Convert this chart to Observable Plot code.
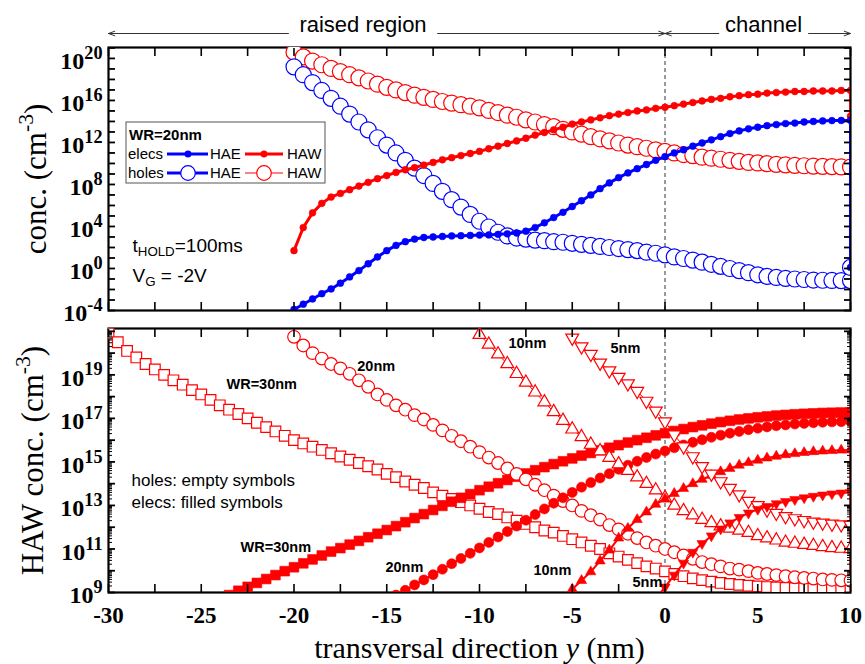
<!DOCTYPE html>
<html>
<head>
<meta charset="utf-8">
<script src="https://cdn.jsdelivr.net/npm/d3@7"></script>
<script src="https://cdn.jsdelivr.net/npm/@observablehq/plot@0.6"></script>
<style>
  html, body { margin: 0; padding: 0; background: #fff; }
  #chart { width: 865px; height: 664px; overflow: hidden; }
  #chart svg { display: block; }
</style>
</head>
<body>
<div id="chart"></div>
<script>
// ---------------- DATA: log10 of concentration (cm^-3), one value every 0.5 nm ----------------
const STEP = 0.5;

// Top panel (WR = 20 nm), transversal position from -20 nm to 10 nm
const topStart = -20;
const elecsHAE = [-3.9,-3.4,-2.9,-2.4,-1.95,-1.4,-0.8,-0.2,0.45,1.1,1.7,2.2,2.55,2.8,2.95,3.0,3.05,3.1,3.12,3.15,3.18,3.2,3.25,3.3,3.38,3.55,3.9,4.35,4.85,5.35,5.9,6.45,7.0,7.6,8.15,8.65,9.1,9.5,9.9,10.3,10.65,11.0,11.3,11.65,11.95,12.25,12.55,12.85,13.1,13.3,13.45,13.6,13.7,13.8,13.85,13.95,14.0,14.05,14.08,14.1,14.1];
const elecsHAW = [1.7,3.9,5.3,6.2,6.8,7.15,7.5,7.85,8.2,8.55,8.85,9.15,9.4,9.6,9.85,10.1,10.35,10.55,10.75,10.95,11.15,11.4,11.65,11.9,12.15,12.4,12.7,12.95,13.2,13.45,13.75,13.95,14.15,14.35,14.55,14.7,14.85,15.0,15.1,15.25,15.35,15.5,15.65,15.8,15.95,16.1,16.2,16.35,16.45,16.55,16.6,16.7,16.75,16.8,16.85,16.85,16.9,16.9,16.9,16.95,16.95];
const holesHAE = [19.2,18.45,17.7,16.95,16.2,15.45,14.7,13.95,13.2,12.45,11.75,11.0,10.3,9.55,8.85,8.1,7.35,6.55,5.85,5.15,4.5,3.95,3.45,3.1,2.9,2.8,2.7,2.65,2.55,2.5,2.4,2.3,2.2,2.1,2.0,1.9,1.8,1.7,1.55,1.45,1.3,1.1,0.95,0.8,0.6,0.4,0.2,0.0,-0.2,-0.4,-0.6,-0.75,-0.85,-0.95,-1.0,-1.05,-1.1,-1.12,-1.14,-1.15,-1.15];
const holesHAW = [20.6,20.15,19.75,19.4,19.05,18.75,18.45,18.15,17.85,17.55,17.25,17.0,16.75,16.5,16.3,16.1,15.9,15.75,15.6,15.45,15.3,15.05,14.85,14.6,14.4,14.15,13.95,13.7,13.5,13.25,13.0,12.8,12.55,12.35,12.15,11.95,11.75,11.6,11.45,11.3,11.15,11.0,10.85,10.75,10.6,10.5,10.4,10.3,10.2,10.1,10.05,9.98,9.92,9.87,9.82,9.78,9.75,9.72,9.7,9.68,9.66];
// boundary values at y = 10 nm (curves drop along the right edge)
const wallElecsHAE = 0.1, wallElecsHAW = 14.5, wallHolesHAE = 0.1;

// Bottom panel (HAW) for WR = 30, 20, 10, 5 nm
const holesWR30 = [20.9,20.5,20.1,19.8,19.5,19.25,19.0,18.75,18.55,18.3,18.1,17.85,17.6,17.4,17.2,17.0,16.8,16.6,16.4,16.2,16.0,15.85,15.7,15.55,15.4,15.25,15.1,14.95,14.8,14.65,14.45,14.3,14.1,13.95,13.8,13.6,13.45,13.3,13.15,13.0,12.85,12.7,12.6,12.45,12.3,12.15,12.0,11.85,11.75,11.6,11.45,11.3,11.15,11.0,10.8,10.65,10.5,10.35,10.2,10.1,9.97,9.85,9.75,9.65,9.57,9.5,9.44,9.39,9.35,9.31,9.28,9.25,9.23,9.21,9.2,9.19,9.18,9.17,9.17,9.16,9.16];
const elecsWR30 = [8.88,9.08,9.26,9.44,9.62,9.8,9.98,10.16,10.34,10.52,10.7,10.88,11.04,11.2,11.37,11.54,11.7,11.87,12.05,12.23,12.42,12.6,12.79,12.98,13.17,13.35,13.52,13.7,13.86,14.02,14.17,14.32,14.47,14.62,14.76,14.9,15.03,15.16,15.29,15.41,15.53,15.65,15.77,15.89,16.0,16.11,16.22,16.32,16.42,16.51,16.6,16.68,16.76,16.83,16.89,16.95,17.0,17.05,17.09,17.13,17.16,17.19,17.21,17.23,17.25,17.26,17.27,17.28];
const holesWR20 = [20.75,20.35,20.0,19.75,19.5,19.3,19.05,18.75,18.45,18.1,17.85,17.6,17.4,17.15,16.95,16.7,16.45,16.2,15.95,15.7,15.45,15.2,14.95,14.7,14.45,14.2,13.95,13.7,13.45,13.2,13.0,12.75,12.55,12.35,12.1,11.9,11.7,11.5,11.3,11.15,11.0,10.85,10.7,10.55,10.4,10.3,10.2,10.1,10.05,9.98,9.9,9.85,9.8,9.75,9.7,9.67,9.64,9.6,9.58,9.56,9.55];
const elecsWR20 = [8.88,9.1,9.35,9.58,9.82,10.07,10.32,10.56,10.8,11.05,11.3,11.55,11.8,12.05,12.32,12.58,12.84,13.1,13.35,13.6,13.84,14.05,14.26,14.46,14.66,14.85,15.03,15.2,15.36,15.5,15.65,15.78,15.9,16.02,16.13,16.23,16.32,16.4,16.48,16.55,16.61,16.66,16.7,16.74,16.77,16.8,16.82,16.84,16.85,16.86];
const holesWR10 = [20.85,20.4,19.95,19.5,19.05,18.65,18.2,17.75,17.3,16.9,16.5,16.15,15.8,15.5,15.2,14.9,14.6,14.3,14.0,13.7,13.35,13.0,12.75,12.55,12.35,12.2,12.05,11.95,11.85,11.75,11.6,11.5,11.4,11.3,11.25,11.2,11.15,11.1,11.05,11.02,11.0];
const elecsWR10 = [8.75,9.15,9.55,9.95,10.45,10.95,11.5,11.95,12.35,12.7,13.05,13.3,13.55,13.78,14.0,14.2,14.38,14.55,14.7,14.85,14.97,15.08,15.18,15.26,15.33,15.38,15.43,15.47,15.5,15.52,15.54,15.55];
const holesWR5 = [20.7,20.3,19.95,19.55,19.2,18.9,18.6,18.25,17.8,17.35,16.85,16.25,15.7,15.25,14.8,14.45,14.1,13.8,13.5,13.2,13.0,12.8,12.65,12.5,12.4,12.32,12.25,12.2,12.15,12.12,12.1];
const elecsWR5 = [8.7,9.25,9.8,10.35,10.85,11.25,11.6,11.92,12.2,12.45,12.65,12.82,12.95,13.08,13.18,13.27,13.35,13.42,13.48,13.53,13.57,13.6];
// first position (nm) of each bottom-panel curve
const holesStart = [-30, -20, -10, -5];
const elecsStart = [-23.5, -14.5, -5.5, -0.5];
const wallElecsWR30 = 8.0;

// curve labels in the bottom panel (position y in nm, log10 conc.)
const curveLabels = ["WR=30nm", "WR=30nm", "20nm", "20nm", "10nm", "10nm", "5nm", "5nm"];
const curveLabelY = [-23.64, -22.88, -16.59, -15.07, -8.44, -7.09, -2.94, -1.75];
const curveLabelC = [18.57, 11.09, 19.37, 10.17, 20.47, 10.01, 20.23, 9.47];

// axis ticks
const xTicks = [-30, -27.5, -25, -22.5, -20, -17.5, -15, -12.5, -10, -7.5, -5, -2.5, 0, 2.5, 5, 7.5, 10];
const xTickLabels = [-30, -25, -20, -15, -10, -5, 0, 5, 10];
const topDecades = [-4,-3,-2,-1,0,1,2,3,4,5,6,7,8,9,10,11,12,13,14,15,16,17,18,19,20,21];
const topLabelExps = [-4, 0, 4, 8, 12, 16, 20];
const botDecades = [9,10,11,12,13,14,15,16,17,18,19,20,21];
const botLabelExps = [9, 11, 13, 15, 17, 19];

// region annotations above the top panel
const regionNames = ["raised region", "channel"];
const regionCenter = [-16.28, 5.31];
const arrowFrom = [-20.3, -12.26, 2.9, 7.74];
const arrowTo = [-30, 0, 0, 10];

// ---------------- helpers ----------------
const RED = "#ff0000", BLUE = "#0000ff";
const serif = "'Liberation Serif', 'Times New Roman', serif";
const sans = "'Liberation Sans', Arial, sans-serif";
const TOP_MAX = 1.1e21, BOT_MAX = 1.35e21;

function pts(start, logs, wall) {
  const out = logs.map((v, i) => ({y: start + STEP * i, c: 10 ** v}));
  if (wall != null) out.push({y: 10, c: 10 ** wall});
  return out;
}
const triDown = {
  draw(context, size) {
    const y = -Math.sqrt(size / (Math.sqrt(3) * 3));
    context.moveTo(0, -y * 2);
    context.lineTo(-Math.sqrt(3) * y, y);
    context.lineTo(Math.sqrt(3) * y, y);
    context.closePath();
  }
};
function curve(data, o) {
  return [
    Plot.line(data, {x: "y", y: "c", stroke: o.color, strokeWidth: o.lw, clip: true}),
    Plot.dot(data, {x: "y", y: "c", r: o.r, symbol: o.symbol || "circle",
      fill: o.open ? "white" : o.color, stroke: o.color, strokeWidth: o.open ? 1.2 : 0.6, clip: true})
  ];
}
function yAxes(decades, labelExps, minors, maxV) {
  const dec = decades.map(e => 10 ** e).filter(v => v <= maxV);
  const m = [
    Plot.axisY(dec, {anchor: "left", tickSize: -7, strokeWidth: 1.8, fill: "none", label: null}),
    Plot.axisY(dec, {anchor: "right", tickSize: -7, strokeWidth: 1.8, fill: "none", label: null}),
    Plot.axisY(labelExps.map(e => 10 ** e), {anchor: "left", tickSize: 0, tickPadding: 6,
      tickFormat: d => `10^{${Math.round(Math.log10(d))}}`, fontSize: 24, fontWeight: "bold",
      fontFamily: serif, label: null, dy: 3})
  ];
  if (minors) {
    m.push(Plot.axisY(minors, {anchor: "left", tickSize: -4, strokeWidth: 1, fill: "none", label: null}));
    m.push(Plot.axisY(minors, {anchor: "right", tickSize: -4, strokeWidth: 1, fill: "none", label: null}));
  }
  return m;
}
const xTickMarks = [
  Plot.axisX(xTicks, {anchor: "top", tickSize: -8, strokeWidth: 1.6, fill: "none", label: null}),
  Plot.axisX(xTicks, {anchor: "bottom", tickSize: -8, strokeWidth: 1.6, fill: "none", label: null})
];
function note(str, dx, dy, size) {
  return Plot.text([str], {frameAnchor: "top-left", dx, dy, textAnchor: "start", lineAnchor: "middle",
    fontSize: size, fontFamily: sans});
}

// ---------------- TOP PANEL ----------------
const topPlot = Plot.plot({
  width: 865, height: 322,
  marginLeft: 108, marginRight: 15, marginTop: 47, marginBottom: 12,
  style: {fontFamily: sans, background: "white", overflow: "visible"},
  x: {domain: [-30, 10]},
  y: {type: "log", domain: [1e-4, TOP_MAX]},
  marks: [
    Plot.frame({strokeWidth: 2.2}),
    Plot.ruleX([0], {strokeDasharray: "4,3", strokeWidth: 0.8}),
    ...curve(pts(topStart, holesHAW), {color: RED, lw: 1, r: 8, open: true}),
    ...curve(pts(topStart, holesHAE, wallHolesHAE), {color: BLUE, lw: 3, r: 8, open: true}),
    ...curve(pts(topStart, elecsHAW, wallElecsHAW), {color: RED, lw: 3, r: 3.4}),
    ...curve(pts(topStart, elecsHAE, wallElecsHAE), {color: BLUE, lw: 3, r: 3.4}),
    ...xTickMarks,
    ...yAxes(topDecades, topLabelExps, null, TOP_MAX),
    Plot.text(["conc. (cm^{-3})"], {frameAnchor: "left", dx: -72, rotate: -90, textAnchor: "middle",
      lineAnchor: "middle", fontSize: 31, fontFamily: serif}),
    note("t_{HOLD}=100ms", 24, 198, 19),
    note("V_{G} = -2V", 24, 228, 19),
    Plot.text(regionNames, {x: regionCenter, y: () => TOP_MAX, dy: -23, fontSize: 22, fontFamily: sans}),
    Plot.arrow(arrowFrom.map((f, i) => ({f, t: arrowTo[i]})), {x1: "f", x2: "t", y1: () => TOP_MAX, y2: () => TOP_MAX,
      dy: -14, stroke: "#333", strokeWidth: 1, headLength: 10, headAngle: 40})
  ]
});

// ---------------- BOTTOM PANEL ----------------
const minorBot = [];
for (let e = 9; e <= 21; e++) for (let k = 2; k <= 9; k++) if (k * 10 ** e <= BOT_MAX) minorBot.push(k * 10 ** e);

const botPlot = Plot.plot({
  width: 865, height: 342,
  marginLeft: 108, marginRight: 15, marginTop: 6, marginBottom: 72,
  style: {fontFamily: sans, background: "white", overflow: "visible"},
  x: {domain: [-30, 10]},
  y: {type: "log", domain: [1e9, BOT_MAX]},
  marks: [
    Plot.frame({strokeWidth: 2.2}),
    Plot.ruleX([0], {strokeDasharray: "4,3", strokeWidth: 0.8}),
    ...curve(pts(holesStart[0], holesWR30), {color: RED, lw: 1, r: 6, symbol: "square", open: true}),
    ...curve(pts(elecsStart[0], elecsWR30, wallElecsWR30), {color: RED, lw: 2, r: 5.5, symbol: "square"}),
    ...curve(pts(holesStart[1], holesWR20), {color: RED, lw: 1, r: 6.3, open: true}),
    ...curve(pts(elecsStart[1], elecsWR20), {color: RED, lw: 2, r: 5}),
    ...curve(pts(holesStart[2], holesWR10), {color: RED, lw: 1, r: 4.8, symbol: "triangle", open: true}),
    ...curve(pts(elecsStart[2], elecsWR10), {color: RED, lw: 2, r: 3.8, symbol: "triangle"}),
    ...curve(pts(holesStart[3], holesWR5), {color: RED, lw: 1, r: 4.8, symbol: triDown, open: true}),
    ...curve(pts(elecsStart[3], elecsWR5), {color: RED, lw: 2, r: 3.8, symbol: triDown}),
    ...xTickMarks,
    ...yAxes(botDecades, botLabelExps, minorBot, BOT_MAX),
    Plot.axisX(xTickLabels, {anchor: "bottom", tickSize: 0, tickPadding: 14, tickFormat: d => String(d),
      fontSize: 23, fontWeight: "bold", fontFamily: serif, label: null}),
    Plot.text(curveLabels, {x: curveLabelY, y: curveLabelC.map(v => 10 ** v), textAnchor: "start",
      fontSize: 14.5, fontWeight: "bold", fontFamily: sans}),
    note("holes: empty symbols", 23, 152, 17),
    note("elecs: filled symbols", 23, 174, 17),
    Plot.text(["HAW conc. (cm^{-3})"], {frameAnchor: "left", dx: -75, rotate: -90, textAnchor: "middle",
      lineAnchor: "middle", fontSize: 31, fontFamily: serif}),
    Plot.text(["transversal direction *y* (nm)"], {frameAnchor: "bottom", dy: 56, textAnchor: "middle",
      lineAnchor: "middle", fontSize: 30, fontFamily: serif})
  ]
});

const chart = document.getElementById("chart");
chart.appendChild(topPlot);
chart.appendChild(botPlot);

// ---------------- legend of the top panel ----------------
(function legend() {
  const g = d3.select(topPlot).append("g").attr("font-family", sans).attr("font-size", 15)
    .attr("text-anchor", "start");
  g.append("rect").attr("x", 126).attr("y", 122).attr("width", 199).attr("height", 61)
    .attr("fill", "white").attr("stroke", "#555").attr("stroke-width", 1);
  g.append("text").attr("x", 129).attr("y", 135).attr("dy", "0.35em").attr("font-weight", "bold").text("WR=20nm");
  const rows = [
    {name: "elecs", y: 154, open: false},
    {name: "holes", y: 173, open: true}
  ];
  for (const row of rows) {
    g.append("text").attr("x", 128).attr("y", row.y).attr("dy", "0.35em").text(row.name);
    const items = [
      {x0: 167, x1: 208, cx: 188, color: BLUE, lw: 3, tx: 210, label: "HAE"},
      {x0: 245, x1: 283, cx: 264, color: RED, lw: row.open ? 1 : 3, tx: 287, label: "HAW"}
    ];
    for (const it of items) {
      g.append("line").attr("x1", it.x0).attr("x2", it.x1).attr("y1", row.y).attr("y2", row.y)
        .attr("stroke", it.color).attr("stroke-width", it.lw);
      g.append("circle").attr("cx", it.cx).attr("cy", row.y).attr("r", row.open ? 7.3 : 3.3)
        .attr("fill", row.open ? "white" : it.color).attr("stroke", it.color).attr("stroke-width", row.open ? 1.2 : 0.5);
      g.append("text").attr("x", it.tx).attr("y", row.y).attr("dy", "0.35em").text(it.label);
    }
  }
})();

// ---------------- superscripts / subscripts / italics in texts ----------------
function rich(el) {
  const s = el.textContent;
  if (!/[\^_]\{|\*[^*]+\*/.test(s)) return;
  const cs = getComputedStyle(el);
  const fs = parseFloat(cs.fontSize) || 16;
  const bold = (parseInt(cs.fontWeight) || 400) >= 600;
  const supScale = bold ? 0.76 : 0.7;
  while (el.firstChild) el.removeChild(el.firstChild);
  const parts = s.split(/(\^\{[^}]*\}|_\{[^}]*\}|\*[^*]+\*)/).filter(p => p !== "");
  let shift = 0;
  for (const p of parts) {
    const t = document.createElementNS("http://www.w3.org/2000/svg", "tspan");
    let target = 0;
    if (p.startsWith("^{")) {
      t.textContent = p.slice(2, -1); t.setAttribute("font-size", (fs * supScale).toFixed(1)); target = -fs * 0.42;
    } else if (p.startsWith("_{")) {
      t.textContent = p.slice(2, -1); t.setAttribute("font-size", (fs * 0.7).toFixed(1)); target = fs * 0.22;
    } else if (p.startsWith("*")) {
      t.textContent = p.slice(1, -1); t.setAttribute("font-style", "italic");
    } else {
      t.textContent = p;
    }
    if (target !== shift) { t.setAttribute("dy", (target - shift).toFixed(2)); shift = target; }
    el.appendChild(t);
  }
}
d3.select(chart).selectAll("text").each(function() { rich(this); });
</script>
</body>
</html>
